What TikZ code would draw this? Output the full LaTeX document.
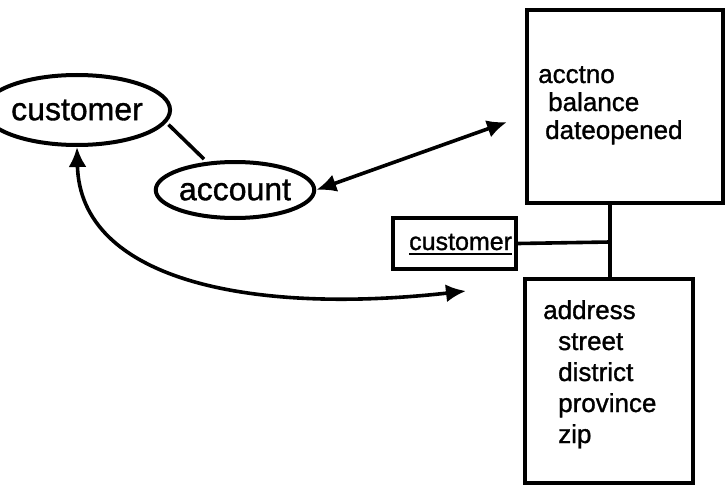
\documentclass[tikz,border=0pt]{standalone}
\usepackage{fontspec}
\setmainfont{Liberation Sans}
\newfontfamily\bigf{Liberation Sans}[FakeBold=1.1]
\newfontfamily\smf{Liberation Sans}[FakeBold=1.1]
\usetikzlibrary{shapes.geometric,arrows.meta}
\begin{document}
\begin{tikzpicture}[x=1pt,y=-1pt,
 ent/.style={ellipse,draw,line width=4pt,inner sep=0pt,font=\bigf\fontsize{32}{36}\selectfont},
 tbox/.style={draw,line width=4pt,inner sep=0pt},
 lbl/.style={anchor=base west,inner sep=0pt,font=\smf\fontsize{26}{30}\selectfont},
 conn/.style={line width=3.6pt},
 biarrow/.style={conn,{Latex[length=20pt,width=18pt]}-{Latex[length=20pt,width=18pt]}}]
\useasboundingbox (0,0) rectangle (726,487);
% entities
\node[ent,minimum width=138pt,minimum height=70pt] (cust) at (77,110) {customer};
\node[ent,minimum width=145pt,minimum height=56pt] (acct) at (235,190) {account};
% boxes
\node[tbox,minimum width=196pt,minimum height=193pt] (accbox) at (625,106.5) {};
\node[tbox,minimum width=168pt,minimum height=204pt] (addr) at (609,381) {};
\node[tbox,minimum width=123pt,minimum height=51pt] (cb) at (454.5,243.5) {};
% texts
\node[lbl] (a1) at (538,83) {acctno};
\node[lbl] (a2) at (548,111) {balance};
\node[lbl] (a3) at (545,139) {dateopened};
\node[lbl] (d1) at (543,319) {address};
\node[lbl] (d2) at (558,350) {street};
\node[lbl] (d3) at (558,381) {district};
\node[lbl] (d4) at (558,412) {province};
\node[lbl] (d5) at (558,443) {zip};
\node[lbl,font=\smf\fontsize{25}{30}\selectfont] (cbt) at (409,250) {customer};
\draw[line width=2pt] ([yshift=-4pt]cbt.base west) -- ([yshift=-4pt]cbt.base east);
% tree connector
\coordinate (jx) at (610,242);
\draw[conn] (accbox.south -| jx) -- (addr.north -| jx);
\draw[conn] (cb.east) -- (jx);
% connectors
\draw[conn,shorten <=3pt,shorten >=4pt] (cust.-8) -- (acct.135);
\coordinate (t1) at (507,122);
\draw[biarrow] (acct.east) -- (t1);
\coordinate (t2) at (466,291);
\draw[biarrow] (cust.south) .. controls (80,280) and (250,315) .. (t2);
\end{tikzpicture}
\end{document}
